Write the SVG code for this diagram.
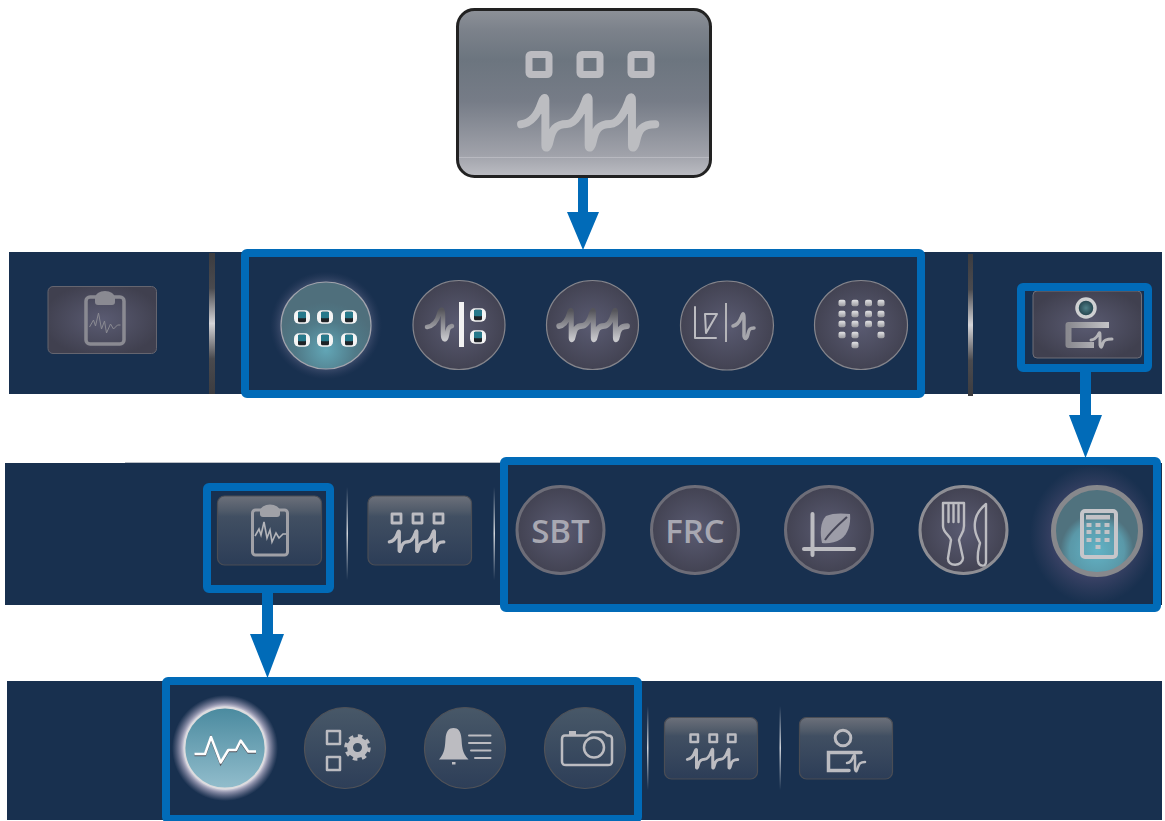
<svg xmlns="http://www.w3.org/2000/svg" width="1165" height="821" viewBox="0 0 1165 821">
<style>
.band{fill:#18304f}
.frame{fill:none;stroke:#016bb8;stroke-width:8}
.conn{fill:#016bb8;stroke:none}
.rc{fill:url(#dark);stroke:#85858c;stroke-width:1.2}
.rb{fill:url(#dark);stroke:#6d6d78;stroke-width:3}
.btn{fill:url(#steel);stroke:#4a4d55;stroke-width:1.2}
.c3{fill:url(#steel2);stroke:#505258;stroke-width:1.2}
.ic{fill:none;stroke:#bcbcc1;stroke-linecap:round;stroke-linejoin:round}
.sq{fill:none;stroke:#bcbcc1;stroke-linejoin:round}
.fl{fill:#bcbcc1;stroke:none}
.txt{font-family:"Open Sans","Noto Sans",sans-serif;font-weight:600;font-size:33px;fill:#a8a8b2;text-anchor:middle}
</style>
<defs>
<radialGradient id="dark" cx=".5" cy=".5" r=".55"><stop offset="0" stop-color="#5a5b72"/><stop offset="1" stop-color="#40404f"/></radialGradient>
<linearGradient id="steel" x1="0" y1="0" x2="0" y2="1"><stop offset="0" stop-color="#6c707a"/><stop offset=".22" stop-color="#4f5a69"/><stop offset=".3" stop-color="#414f62"/><stop offset="1" stop-color="#2c3d57"/></linearGradient>
<linearGradient id="steel2" x1="0" y1="0" x2="0" y2="1"><stop offset="0" stop-color="#485868"/><stop offset="1" stop-color="#2d3e58"/></linearGradient>
<linearGradient id="big" x1="0" y1="0" x2="0" y2="1"><stop offset="0" stop-color="#8d9198"/><stop offset=".12" stop-color="#7c828b"/><stop offset=".3" stop-color="#6c757f"/><stop offset=".55" stop-color="#767c87"/><stop offset=".87" stop-color="#a0a2aa"/><stop offset="1" stop-color="#bcbdc3"/></linearGradient>
<linearGradient id="sep" x1="0" y1="0" x2="0" y2="1"><stop offset="0" stop-color="#3c3c40"/><stop offset=".25" stop-color="#4a4a4e"/><stop offset=".5" stop-color="#d4d4d8"/><stop offset=".75" stop-color="#4a4a4e"/><stop offset="1" stop-color="#3c3c40"/></linearGradient>
<linearGradient id="thin" x1="0" y1="0" x2="0" y2="1"><stop offset="0" stop-color="#c8ccd2" stop-opacity="0"/><stop offset=".5" stop-color="#d0d4da"/><stop offset="1" stop-color="#c8ccd2" stop-opacity="0"/></linearGradient>
<linearGradient id="wv" x1="0" y1="0" x2="1" y2="0"><stop offset="0" stop-color="#8a8a90"/><stop offset="1" stop-color="#c4c4c8"/></linearGradient>
<linearGradient id="wv2" x1="0" y1="0" x2="0" y2="1"><stop offset="0" stop-color="#55555b"/><stop offset=".6" stop-color="#9c9ca2"/><stop offset="1" stop-color="#c8c8cc"/></linearGradient>
<linearGradient id="dot" x1="0" y1="0" x2="0" y2="1"><stop offset="0" stop-color="#e4e4e6"/><stop offset="1" stop-color="#9a9a9f"/></linearGradient>
<linearGradient id="pulse" x1="0" y1="0" x2="0" y2="1"><stop offset="0" stop-color="#4a8a9f"/><stop offset="1" stop-color="#92bdcc"/></linearGradient>
<radialGradient id="teal1" cx=".5" cy=".78" r=".55"><stop offset="0" stop-color="#62a6b6"/><stop offset=".6" stop-color="#507a88"/><stop offset="1" stop-color="#4f6f7c"/></radialGradient>
<radialGradient id="teal2" cx=".5" cy=".72" r=".42"><stop offset="0" stop-color="#62b3c6"/><stop offset=".75" stop-color="#5a98a8"/><stop offset="1" stop-color="#50727e"/></radialGradient>
<radialGradient id="haloA"><stop offset=".6" stop-color="#9a9bb8" stop-opacity=".85"/><stop offset="1" stop-color="#3c4668" stop-opacity="0"/></radialGradient>
<radialGradient id="haloB"><stop offset=".55" stop-color="#40456a"/><stop offset="1" stop-color="#3c4464" stop-opacity="0"/></radialGradient>
<radialGradient id="haloC"><stop offset=".76" stop-color="#ece8f0"/><stop offset=".84" stop-color="#aaa8c0" stop-opacity=".8"/><stop offset="1" stop-color="#8d8ca8" stop-opacity="0"/></radialGradient>
<radialGradient id="eye"><stop offset="0" stop-color="#4f8088"/><stop offset="1" stop-color="#1d3a44"/></radialGradient>
<path id="wave" d="M-201 3C-170 0 -150 -30 -140 -60C-135 -75 -128 -82 -128 -70V65C-128 78 -120 76 -115 52C-108 20 -98 2 -63 2C-35 2 -15 -45 -8 -65C-4 -80 2 -82 2 -70V65C2 78 10 76 15 52C22 20 32 2 67 2C95 2 115 -45 122 -65C126 -80 132 -82 132 -70V65C132 78 140 76 145 52C152 20 162 3 202 3"/>
<g id="tile"><rect x="-8" y="-6.800" width="16" height="13.600" rx="5" fill="#f4f4f4"/><rect x="-4" y="-5.300" width="8" height="10.600" rx="1.500" fill="#1e2226"/><rect x="-4" y="-5.300" width="8" height="6.500" rx="1" fill="#27798b"/></g>
<rect id="key" x="-2.500" y="-2" width="5" height="4" fill="#c2c2c6"/>
<rect id="d" x="-3.500" y="-3.300" width="7" height="6.600" rx="2" fill="url(#dot)"/>
<path id="ecg" d="M0 16L4 9L6 15L9 2L12 18L15 10L17 22L21 13L24 18L28 14L31 14"/>
</defs>

<g id="bands">
<rect class="band" x="9" y="252" width="1153" height="142"/>
<rect class="band" x="5" y="463" width="1157" height="142"/>
<rect class="band" x="7" y="681" width="1155" height="139"/>
<rect x="125" y="462" width="376" height="1" fill="#b9bec6"/>
<rect x="209" y="253" width="6" height="141" fill="url(#sep)"/>
<rect x="968" y="254" width="5" height="142" fill="url(#sep)"/>
<rect x="346.500" y="487" width="1.500" height="93" fill="url(#thin)"/>
<rect x="493.500" y="487" width="1.500" height="93" fill="url(#thin)"/>
<rect x="647" y="706" width="1.500" height="84" fill="url(#thin)"/>
<rect x="779.500" y="706" width="1.500" height="84" fill="url(#thin)"/>
</g>

<g id="top-button">
<rect x="457.500" y="9.500" width="253" height="167" rx="17" fill="url(#big)" stroke="#222" stroke-width="3"/>
<rect x="459" y="157" width="250" height="1" fill="#b8b9c0"/>
<g class="sq" stroke-width="7"><rect x="529" y="54.500" width="20" height="20" rx="2"/><rect x="580" y="54.500" width="20" height="20" rx="2"/><rect x="631" y="54.500" width="20" height="20" rx="2"/></g>
<use href="#wave" transform="translate(588 123.300) scale(.333)" fill="none" stroke="#bcbdc1" stroke-width="24" stroke-linecap="round" stroke-linejoin="round"/>
</g>

<g id="r1-clipboard">
<rect x="48" y="286.500" width="108.500" height="67" rx="5" fill="url(#dark)" stroke="#65656f"/>
<rect x="86" y="297" width="38" height="47" rx="4" fill="none" stroke="#8a8a92" stroke-width="3.500"/>
<path d="M95 298a10 7 0 0 1 20 0v4a3 3 0 0 1 -3 3h-14a3 3 0 0 1 -3 -3z" fill="#8a8a92"/>
<use href="#ecg" transform="translate(89.500 311)" fill="none" stroke="#8a8a92" stroke-width="1"/>
</g>

<g id="r1-circle-1">
<ellipse cx="326" cy="325.500" rx="56" ry="54" fill="url(#haloA)"/>
<ellipse cx="326" cy="325.500" rx="45" ry="43.500" fill="url(#teal1)" stroke="#a2a4ad" stroke-width="1.200"/>
<use href="#tile" x="302" y="317"/><use href="#tile" x="325" y="317"/><use href="#tile" x="349" y="317"/>
<use href="#tile" x="302" y="340"/><use href="#tile" x="325" y="340"/><use href="#tile" x="349" y="340"/>
</g>

<g id="r1-circle-2">
<ellipse class="rc" cx="459" cy="325" rx="46" ry="44.500"/>
<rect x="459" y="302" width="5" height="45" fill="#f2f2f2"/>
<use href="#tile" x="478" y="315"/><use href="#tile" x="478" y="337"/>
<path d="M427 327C433 326 437 322 439 314C441 308 443 308 443 316V334C443 341 446 341 447 335C448 329 448 327 452 326" fill="none" stroke="url(#wv2)" stroke-width="4.500" stroke-linecap="round"/>
</g>

<g id="r1-circle-3">
<ellipse class="rc" cx="592.500" cy="325" rx="46" ry="44.500"/>
<use href="#wave" transform="translate(593 325.500) scale(.17 .19)" fill="none" stroke="url(#wv2)" stroke-width="30" stroke-linecap="round" stroke-linejoin="round"/>
</g>

<g id="r1-circle-4">
<ellipse class="rc" cx="727" cy="325.500" rx="46.500" ry="44.500"/>
<path class="ic" stroke-width="2" stroke="#a6a6ac" d="M695 307V338H716M706 333L705 314L717 314Z"/>
<rect x="725" y="303" width="2" height="39" fill="#b4b4b8"/>
<path d="M733 326C737 325 739 323 741 318C743 312 744 313 744 318V336C745 340 747 339 748 334C749 329 750 328 754 328" fill="none" stroke="#a6a6ac" stroke-width="3.500" stroke-linecap="round"/>
</g>

<g id="r1-circle-5">
<ellipse class="rc" cx="861" cy="325" rx="46.500" ry="44.500"/>
<use href="#d" x="842" y="303"/><use href="#d" x="855" y="303"/><use href="#d" x="868.500" y="303"/><use href="#d" x="881" y="303"/>
<use href="#d" x="842" y="314"/><use href="#d" x="855" y="314"/><use href="#d" x="868.500" y="314"/><use href="#d" x="881" y="314"/>
<use href="#d" x="842" y="324"/><use href="#d" x="855" y="324"/><use href="#d" x="868.500" y="324"/><use href="#d" x="881" y="324"/>
<use href="#d" x="842" y="335"/><use href="#d" x="855" y="335"/><use href="#d" x="881" y="335"/>
<use href="#d" x="855" y="345"/>
</g>

<g id="r1-person">
<rect x="1033" y="291" width="108.500" height="67" rx="4" fill="url(#dark)" stroke="#6f6f78"/>
<circle cx="1086" cy="308" r="9" fill="url(#eye)" stroke="#ced0d2" stroke-width="3.500"/>
<path d="M1109 325H1068.500V345H1094" fill="none" stroke="url(#wv)" stroke-width="6" stroke-linejoin="round"/>
<path d="M1091 340C1094 340 1096 338 1098 335C1100 331 1100 333 1100 336V345C1101 349 1102 347 1103 343C1104 340 1106 339 1112 339" fill="none" stroke="#b4b4b8" stroke-width="3" stroke-linecap="round"/>
</g>

<g id="r2-clipboard">
<rect x="217.500" y="496" width="104" height="69" rx="7" class="btn"/>
<rect x="252.500" y="510" width="35" height="45" rx="3" fill="none" stroke="#a0a1a7" stroke-width="3"/>
<path d="M260 511a10 6.500 0 0 1 20 0v3a3 3 0 0 1 -3 3h-14a3 3 0 0 1 -3 -3z" fill="#a0a1a7"/>
<use href="#ecg" transform="translate(255 520)" fill="none" stroke="#b4b5ba" stroke-width="1.600"/>
</g>

<g id="r2-wave">
<rect x="368" y="496" width="103.500" height="69" rx="7" class="btn"/>
<g class="sq" stroke-width="2.800"><rect x="392" y="514" width="9" height="9"/><rect x="413" y="514" width="9" height="9"/><rect x="434" y="514" width="9" height="9"/></g>
<use href="#wave" transform="translate(416.500 541.500) scale(.135)" fill="none" stroke="#bcbcc1" stroke-width="25" stroke-linecap="round" stroke-linejoin="round"/>
</g>

<g id="r2-sbt">
<circle class="rb" cx="560.500" cy="530" r="43.500"/>
<text class="txt" x="560.500" y="543">SBT</text>
</g>
<g id="r2-frc">
<circle class="rb" cx="695" cy="530" r="43.500"/>
<text class="txt" x="695" y="543">FRC</text>
</g>
<g id="r2-leaf">
<circle class="rb" cx="829" cy="530" r="43.500"/>
<path class="ic" stroke-width="4" stroke="#a0a0aa" d="M812.500 514V555M804 549H854"/>
<path d="M826 516C832 513 842 513 850 514C851 524 848 534 841 539C835 543 827 544 822 543C820 534 820 522 826 516Z" fill="#9d9da8"/>
<path d="M825 540C831 531 838 525 847 517" fill="none" stroke="#474758" stroke-width="2"/>
</g>
<g id="r2-cutlery">
<circle cx="963.500" cy="530" r="43.500" fill="url(#dark)" stroke="#8e8e94" stroke-width="3"/>
<path class="ic" stroke-width="2.400" stroke="#a8a8ae" d="M943 503H964V526C964 533 960 535 959 540L963 558C963 567 947 567 948 558L951 540C950 535 943 533 943 526ZM948.500 505V522M953.500 505V522M958.500 505V522"/>
<path class="ic" stroke-width="2.400" stroke="#a8a8ae" d="M986 504V562C986 567 979 567 978 561C977 552 979 548 980 543C976 535 974 530 975 522C976 514 981 508 986 504Z"/>
</g>
<g id="r2-calc">
<rect x="1030" y="465" width="127" height="139" fill="url(#haloB)"/>
<circle cx="1097" cy="531" r="43.500" fill="url(#teal2)" stroke="#87888c" stroke-width="5"/>
<rect x="1082" y="511" width="34" height="46" rx="3" fill="none" stroke="#c6c6ca" stroke-width="4"/>
<rect x="1086" y="515" width="24" height="4.500" fill="#c2c2c6"/>
<use href="#key" x="1089" y="525"/><use href="#key" x="1098" y="525"/><use href="#key" x="1107" y="525"/>
<use href="#key" x="1089" y="532"/><use href="#key" x="1098" y="532"/><use href="#key" x="1107" y="532"/>
<use href="#key" x="1089" y="540"/><use href="#key" x="1098" y="540"/><use href="#key" x="1107" y="540"/>
<use href="#key" x="1098" y="547"/>
</g>

<g id="r3-pulse">
<circle cx="225" cy="748" r="53" fill="url(#haloC)"/>
<circle cx="225" cy="748" r="40.500" fill="url(#pulse)" stroke="#dcdcde" stroke-width="1.800"/>
<path d="M194.500 755H205L211 738L220.700 763.500L228.300 751H236L240.700 741.500L248.300 752.500H256" fill="none" stroke="#55555e" stroke-width="2.500"/>
<path d="M194.500 754H205L211 737L220.700 762.500L228.300 750H236L240.700 740.500L248.300 751.500H256" fill="none" stroke="#fff" stroke-width="2.500" stroke-linejoin="round"/>
</g>
<g id="r3-settings">
<circle class="c3" cx="345" cy="748" r="40.500"/>
<g class="sq" stroke-width="2.500"><rect x="327" y="731" width="13" height="13"/><rect x="327" y="757" width="13" height="13"/></g>
<circle cx="357.500" cy="747.500" r="7.500" fill="none" stroke="#bcbcc1" stroke-width="6"/>
<circle cx="357.500" cy="747.500" r="11.500" fill="none" stroke="#bcbcc1" stroke-width="3.500" stroke-dasharray="4.500 4.530"/>
</g>
<g id="r3-alarms">
<circle class="c3" cx="465" cy="748" r="40.500"/>
<path class="fl" d="M439 759.500C445 753 445 746 445.500 739C446 731 449 728 453.500 728C458 728 461 731 461.500 739C462 746 462 753 468.500 759.500Z"/>
<rect class="fl" x="452" y="762" width="3.500" height="2.500"/>
<path class="ic" stroke-width="2" d="M469 735.500H490.500M469 743H490.500M471 750.500H490.500M475 758H490.500"/>
</g>
<g id="r3-camera">
<circle class="c3" cx="585" cy="748" r="40.500"/>
<path class="ic" stroke-width="2.500" d="M565 735.500H586C588 735.500 589 732 592 732H602C605 732 606 735.500 608 735.500C611 735.500 612 737 612 739V761C612 764 611 765 608 765H566C563 765 562 764 562 761V739C562 737 563 735.500 565 735.500Z"/>
<rect class="fl" x="569" y="731" width="7" height="4"/>
<circle cx="594" cy="747.500" r="10" fill="none" stroke="#bcbcc1" stroke-width="2.500"/>
</g>
<g id="r3-wave">
<rect x="664.500" y="717.500" width="93" height="61.500" rx="7" class="btn"/>
<g class="sq" stroke-width="2.500"><rect x="690.500" y="734.500" width="7.500" height="7.500"/><rect x="709.500" y="734.500" width="7.500" height="7.500"/><rect x="728" y="734.500" width="7.500" height="7.500"/></g>
<use href="#wave" transform="translate(712.500 759) scale(.125)" fill="none" stroke="#bcbcc1" stroke-width="24" stroke-linecap="round" stroke-linejoin="round"/>
</g>
<g id="r3-person">
<rect x="799.500" y="717.500" width="93" height="61.500" rx="7" class="btn"/>
<circle cx="843" cy="738" r="7.800" fill="none" stroke="#bcbcc1" stroke-width="3"/>
<path d="M861 752.500H828.500V770.500H849" fill="none" stroke="#bcbcc1" stroke-width="3.500" stroke-linecap="round"/>
<path d="M847 763C850 763 852 760 853 757C855 753 855 756 855 758V769C856 773 857 771 858 767C859 764 860 762 865 762" fill="none" stroke="#bcbcc1" stroke-width="2.500" stroke-linecap="round"/>
</g>

<g id="connectors">
<path class="conn" d="M578 178H588V212H599L583 250L567 212H578Z"/>
<path class="conn" d="M1080 372H1091V415H1102L1085.500 458L1069 415H1080Z"/>
<path class="conn" d="M262 592H273V634H284L267.500 678L250 634H262Z"/>
<g id="frames">
<rect class="frame" x="245" y="253" width="676" height="141" rx="2"/>
<rect class="frame" x="1021" y="287" width="127" height="81" rx="2"/>
<rect class="frame" x="504" y="461" width="653" height="147" rx="2"/>
<rect class="frame" x="207" y="487" width="123" height="102" rx="2"/>
<rect class="frame" x="166" y="681" width="472" height="138" rx="2"/>
</g>
</g>
</svg>
